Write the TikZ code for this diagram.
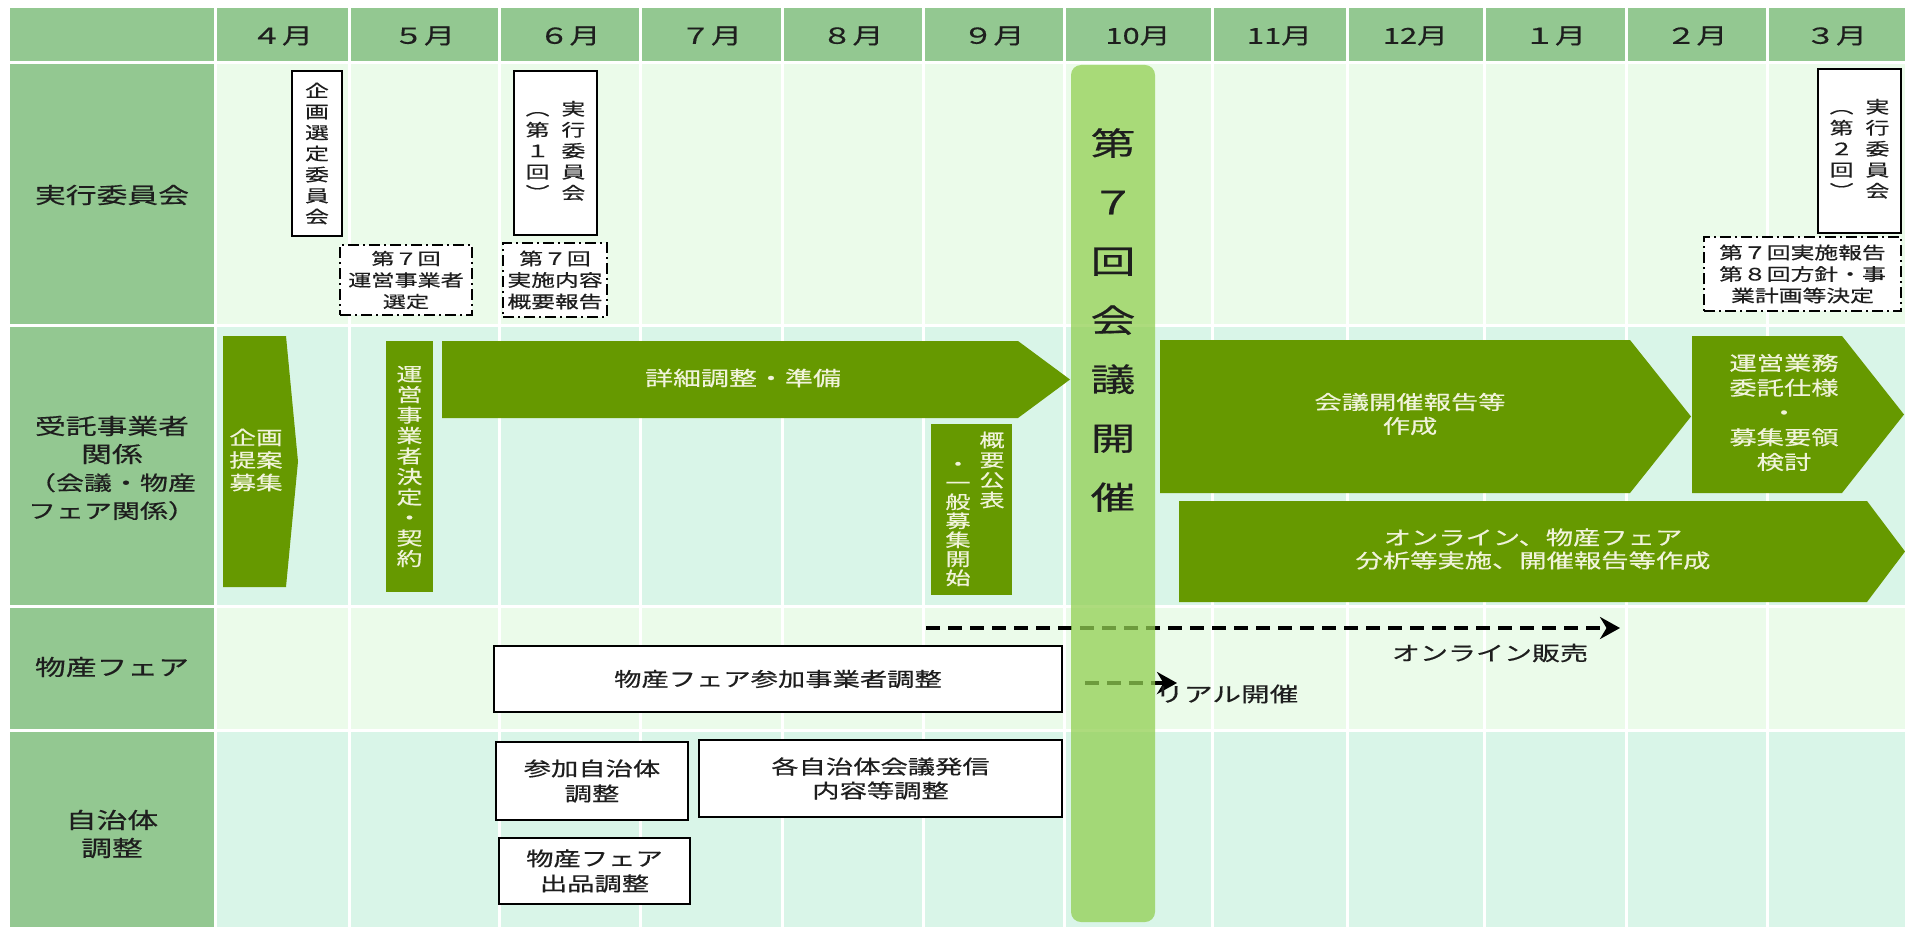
\documentclass[tikz,border=0pt]{standalone}
\usepackage{fontspec}
\setmainfont{Noto Sans CJK JP}[FakeStretch=1.4,FakeBold=0.5]
\usepackage{tikz}
\usetikzlibrary{arrows.meta}
\definecolor{hdrgreen}{RGB}{147,200,145}
\definecolor{rowlight}{RGB}{235,251,234}
\definecolor{rowmint}{RGB}{217,245,232}
\definecolor{taskgreen}{RGB}{102,153,0}
\definecolor{barlime}{RGB}{146,207,82}
\definecolor{paletext}{RGB}{240,243,218}
\definecolor{inktext}{RGB}{30,30,30}
\newcommand{\fsz}[2]{\fontsize{#1}{#2}\selectfont}
\newcommand{\homeplate}[5]{\fill[taskgreen] (#1,#2) -- (#3,#2) -- (#5,{(#2+#4)/2}) -- (#3,#4) -- (#1,#4) -- cycle;}

\begin{document}
\begin{tikzpicture}[x=1pt,y=-1pt,
  rowlabel/.style={text=inktext,align=center,font=\fsz{22}{28}},
  month/.style={text=inktext,font=\fsz{22}{26}},
  plainbox/.style={draw=black,line width=1.6pt,fill=white,text=inktext,align=center,inner sep=0pt},
  noticebox/.style={draw=black,line width=1.8pt,dash pattern=on 11pt off 4pt on 2pt off 4pt,fill=white,text=inktext,align=center,inner sep=0pt},
  tasktext/.style={text=paletext,align=center,font=\fsz{19.5}{24}},
  taskbox/.style={fill=taskgreen,inner sep=0pt},
  salesline/.style={line width=4pt,dash pattern=on 14pt off 8pt,-{Stealth[length=20pt,width=22pt]}}]
  \fill[white] (0,0) rectangle (1905,928);
  \useasboundingbox (0,0) rectangle (1905,928);
  \foreach \ya/\yb/\rc in {6.5/62.5/hdrgreen,62.5/325/rowlight,325/606/rowmint,606/730/rowlight,730/928.5/rowmint}
    \foreach \xa/\xb [count=\c] in {8.5/215,215/349,349/499,499/640,640/782,782/923,923/1064,1064/1212,1212/1347,1347/1484,1484/1626,1626/1767,1767/1906.5}{
      \ifnum\c=1 \def\cc{hdrgreen}\else\edef\cc{\rc}\fi
      \fill[fill=\cc] (\xa+1.5,\ya+1.5) rectangle (\xb-1.5,\yb-1.5);
    }
  \foreach \xa/\xb/\m [count=\i] in {215/349/４月,349/499/５月,499/640/６月,640/782/７月,782/923/８月,923/1064/９月,1064/1212/10月,1212/1347/11月,1347/1484/12月,1484/1626/１月,1626/1767/２月,1767/1905/３月}
    \node[month] (m\i) at ({(\xa+\xb)/2},36) {\m};

  \node[rowlabel] (iinkai) at (112,195) {実行委員会};
  \node[rowlabel] (jutaku) at (112,468) {受託事業者\\関係\\{\fsz{20}{28}（会議・物産}\\{\fsz{20}{28}フェア関係）}};
  \node[rowlabel] (bussan) at (112,667) {物産フェア};
  \node[rowlabel] (jichitai) at (112,834) {自治体\\調整};

  \node[plainbox,minimum width=50pt,minimum height=165pt,font=\fsz{17}{21}] (senteiiin) at (317,153.5) {企\\画\\選\\定\\委\\員\\会};
  \node[plainbox,minimum width=83pt,minimum height=164pt,font=\fsz{17}{21}] (iinkai1) at (555.5,153) {\begin{tabular}{@{}c@{\hspace{12pt}}c@{}}︵&実\\第&行\\１&委\\回&員\\︶&会\end{tabular}};
  \node[plainbox,minimum width=83pt,minimum height=164pt,font=\fsz{17}{21}] (iinkai2) at (1859.5,151) {\begin{tabular}{@{}c@{\hspace{12pt}}c@{}}︵&実\\第&行\\２&委\\回&員\\︶&会\end{tabular}};
  \node[noticebox,minimum width=132pt,minimum height=70pt,font=\fsz{16.5}{21.5}] (sentei) at (406,280) {第７回\\運営事業者\\選定};
  \node[noticebox,minimum width=104pt,minimum height=74pt,font=\fsz{17}{21.5}] (gaiyo) at (555,280) {第７回\\実施内容\\概要報告};
  \node[noticebox,minimum width=197pt,minimum height=74pt,font=\fsz{17}{21.5}] (hokoku) at (1802.5,274) {第７回実施報告\\第８回方針・事\\業計画等決定};

  \homeplate{223}{336}{286}{587}{298}
  \node[tasktext,font=\fsz{19}{22.5}] (teian) at (256,460) {企画\\提案\\募集};
  \node[taskbox,minimum width=47pt,minimum height=251pt,text=paletext,align=center,font=\fsz{18.5}{20.5}] (keiyaku) at (409.5,466.5) {運\\営\\事\\業\\者\\決\\定\\・\\契\\約};
  \homeplate{442}{341}{1018}{418}{1070}
  \node[tasktext,font=\fsz{20}{24}] (junbi) at (743,378) {詳細調整・準備};
  \node[taskbox,minimum width=81pt,minimum height=171pt] (kobo) at (971.5,509.5) {};
  \node[tasktext,font=\fsz{18}{20}] (kobo-r) at (992,470) {概\\要\\公\\表};
  \node[tasktext,font=\fsz{18}{19}] (kobo-l) at (958,524) {・\\一\\般\\募\\集\\開\\始};
  \homeplate{1160}{340}{1630}{493}{1691}
  \node[tasktext] (sakusei) at (1410,414) {会議開催報告等\\作成};
  \homeplate{1692}{336}{1842}{493}{1904}
  \node[tasktext,font=\fsz{19.5}{24.75}] (shiyo) at (1784,412.5) {運営業務\\委託仕様\\・\\募集要領\\検討};
  \homeplate{1179}{501}{1867}{602}{1905}
  \node[tasktext,font=\fsz{19.5}{23}] (bunseki) at (1533,549) {オンライン、物産フェア\\分析等実施、開催報告等作成};

  \node[plainbox,minimum width=568pt,minimum height=66pt,font=\fsz{19.5}{24}] (sanka) at (778,679) {物産フェア参加事業者調整};
  \coordinate (online-s) at (926,628);
  \coordinate (online-e) at (1620,628);
  \draw[salesline] (online-s) -- (online-e);
  \node[text=inktext,font=\fsz{20}{24}] (online) at (1490,653) {オンライン販売};
  \coordinate (real-s) at (1085,683);
  \coordinate (real-e) at (1177,683);
  \draw[salesline] (real-s) -- (real-e);
  \node[anchor=west,inner sep=0pt,text=inktext,font=\fsz{20.5}{24}] (real) at (1155,694) {リアル開催};

  \node[plainbox,minimum width=192pt,minimum height=78pt,font=\fsz{19.5}{25}] (sankajichi) at (592,781) {参加自治体\\調整};
  \node[plainbox,minimum width=363pt,minimum height=77pt,font=\fsz{19.5}{24}] (hasshin) at (880.5,778.5) {各自治体会議発信\\内容等調整};
  \node[plainbox,minimum width=191pt,minimum height=66pt,font=\fsz{19.5}{25}] (shuppin) at (594.5,871) {物産フェア\\出品調整};

  \node[fill=barlime,fill opacity=0.75,rounded corners=10pt,minimum width=84pt,minimum height=857pt,inner sep=0pt] (kaigi) at (1113,493.5) {};
  \node[text=inktext,align=center,font=\fsz{32}{59}] (kaigi-t) at (1113,320) {第\\７\\回\\会\\議\\開\\催};
\end{tikzpicture}
\end{document}
